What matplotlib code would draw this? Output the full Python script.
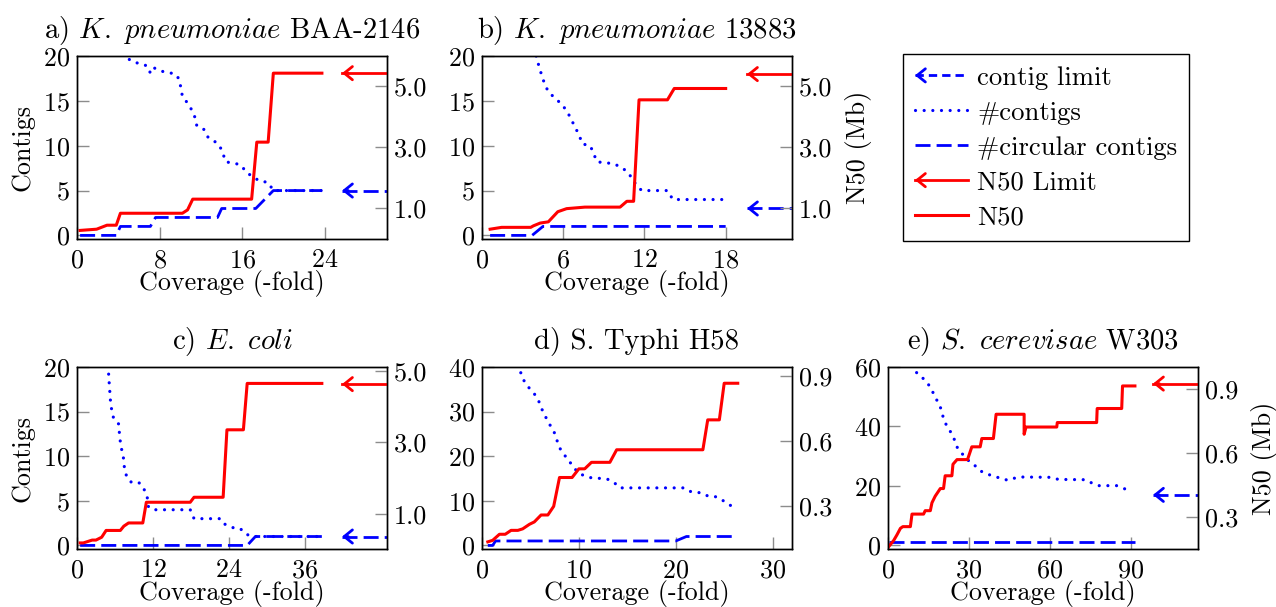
import matplotlib
matplotlib.use('Agg')
import matplotlib.pyplot as plt
from matplotlib.lines import Line2D
from matplotlib.patches import FancyArrowPatch
from matplotlib.legend_handler import HandlerLine2D

plt.rcParams['font.family'] = 'cmr10'
plt.rcParams['mathtext.fontset'] = 'cm'
plt.rcParams['axes.formatter.use_mathtext'] = True
plt.rcParams['font.size'] = 18.8

RED = '#ff0000'
BLUE = '#0000ff'
TICK = '#8c8c8c'
HEAD = '->,head_length=0.42,head_width=0.34'
DASH = (5.4, 2.2)
DOT = (0.01, 2.7)

# a) K. pneumoniae BAA-2146
a_cov_ctg = [4.4, 5.3, 6.8, 7.1, 7.4, 8.2, 9.5, 9.9, 10.2, 10.6, 11.1, 11.4, 11.6, 12.3,
             12.7, 13.3, 13.8, 14.1, 14.4, 15.4, 15.9, 16.4, 17.1, 17.6, 18.5, 19.0, 23.7]
a_ctg = [20.2, 19.4, 18.9, 18.1, 18.7, 18.3, 18.0, 17.4, 15.5, 14.9, 14.0, 13.2, 12.2, 11.8,
         10.9, 10.5, 10.0, 9.2, 8.2, 8.0, 7.8, 7.0, 6.5, 6.1, 5.9, 5.0, 5.0]
a_cov_circ = [0.3, 3.8, 4.2, 7.1, 7.6, 13.6, 14.0, 17.3, 19.0, 23.7]
a_circ = [0, 0, 1, 1, 2, 2, 3, 3, 5, 5]
a_cov_n50 = [0.3, 1.9, 2.9, 3.8, 4.2, 10.2, 10.7, 11.2, 16.9, 17.4, 18.5, 19.0, 23.7]
a_n50 = [0.28, 0.32, 0.45, 0.45, 0.84, 0.84, 0.95, 1.30, 1.30, 3.16, 3.16, 5.41, 5.41]

# b) K. pneumoniae 13883
b_cov_ctg = [4.0, 4.2, 4.4, 4.6, 4.9, 5.4, 5.9, 6.3, 6.6, 6.9, 7.2, 7.4, 8.0, 8.5, 9.7,
             10.3, 10.8, 11.4, 11.8, 13.7, 14.1, 18.0]
b_ctg = [20.0, 18.9, 17.9, 17.0, 16.0, 15.3, 14.6, 13.8, 12.9, 12.0, 11.1, 10.2, 10.0, 8.2,
         8.0, 7.6, 7.0, 5.6, 5.0, 5.0, 4.0, 4.0]
b_cov_circ = [0.6, 3.7, 4.5, 18.0]
b_circ = [0, 0, 1, 1]
b_cov_n50 = [0.6, 1.45, 3.6, 3.8, 4.3, 4.9, 5.6, 6.25, 7.6, 10.2, 10.7, 11.2, 11.6, 13.7, 14.2, 18.0]
b_n50 = [0.32, 0.38, 0.38, 0.43, 0.52, 0.56, 0.89, 0.99, 1.04, 1.04, 1.23, 1.23, 4.54, 4.54, 4.91, 4.91]

# c) E. coli
c_cov_ctg = [5.0, 5.1, 5.2, 5.3, 5.5, 5.8, 6.6, 6.7, 6.85, 7.1, 7.4, 7.5, 7.9, 8.7, 9.9,
             10.6, 11.1, 11.3, 12.1, 17.9, 18.5, 22.7, 23.3, 24.6, 25.8, 26.6, 27.7, 38.7]
c_ctg = [19.2, 18.1, 17.1, 16.1, 15.1, 14.2, 13.6, 12.6, 11.6, 10.6, 9.6, 8.6, 7.6, 7.0, 7.0,
         6.3, 5.4, 4.3, 4.0, 4.0, 3.0, 3.0, 2.4, 2.0, 1.9, 1.3, 1.0, 1.0]
c_cov_circ = [0.5, 26.9, 28.2, 38.7]
c_circ = [0, 0, 1, 1]
c_cov_n50 = [0.5, 1.0, 2.4, 3.0, 3.9, 4.6, 6.85, 7.4, 8.15, 10.4, 10.96, 17.9, 18.5, 23.1,
             23.7, 26.3, 26.9, 38.7]
c_n50 = [0.18, 0.18, 0.26, 0.26, 0.34, 0.53, 0.53, 0.65, 0.74, 0.74, 1.32, 1.32, 1.46, 1.46,
         3.35, 3.35, 4.65, 4.65]

# d) S. Typhi H58
d_cov_ctg = [3.8, 3.9, 4.2, 4.7, 5.3, 5.8, 6.1, 6.5, 6.9, 7.4, 7.7, 8.0, 8.5, 9.1, 9.6, 10.25,
             11.2, 12.9, 13.6, 14.2, 20.9, 21.6, 22.6, 23.4, 24.2, 25.0, 25.7]
d_ctg = [40.6, 39.4, 37.4, 35.7, 34.3, 32.7, 30.9, 29.1, 27.4, 25.7, 23.8, 21.9, 20.3, 18.6,
         17.1, 15.9, 15.2, 14.9, 14.2, 12.9, 12.9, 12.0, 11.8, 11.0, 10.9, 9.9, 8.9]
d_cov_circ = [0.6, 1.1, 1.4, 20.0, 21.1, 26.4]
d_circ = [0, 0, 1, 1, 2, 2]
d_cov_n50 = [0.6, 1.1, 1.8, 2.4, 3.0, 3.7, 4.2, 4.9, 5.4, 6.1, 6.8, 7.4, 8.0, 9.3, 10.0, 10.6,
             11.3, 13.2, 13.9, 22.8, 23.3, 24.5, 25.0, 26.4]
d_n50 = [0.133, 0.14, 0.168, 0.168, 0.186, 0.186, 0.193, 0.214, 0.225, 0.257, 0.257, 0.297,
         0.43, 0.43, 0.47, 0.47, 0.50, 0.50, 0.558, 0.558, 0.696, 0.696, 0.865, 0.865]

# e) S. cerevisae W303
e_cov_ctg = [8.5, 11.3, 13.8, 15.4, 16.7, 17.5, 19.1, 20.0, 20.8, 22.4, 23.7, 24.5, 25.3, 26.8,
             28.6, 30.5, 32.3, 34.2, 36.7, 39.7, 42.2, 44.7, 47.8, 50.0, 60.5, 63.2, 73.1,
             75.6, 78.0, 84.8, 87.9, 90.4]
e_ctg = [60.3, 57.4, 55.6, 53.6, 51.4, 49.7, 47.5, 44.7, 42.0, 39.2, 37.6, 35.9, 33.5, 31.5,
         29.8, 27.9, 26.8, 25.1, 24.0, 23.2, 22.4, 21.9, 22.9, 23.0, 22.9, 22.2, 22.1, 21.0,
         20.1, 20.1, 19.0, 19.0]
e_cov_circ = [0.2, 91.6]
e_circ = [1, 1]
e_cov_n50 = [0.2, 2.1, 3.3, 4.6, 5.5, 8.3, 8.9, 13.2, 13.8, 15.7, 16.3, 17.5, 19.4, 20.6, 21.2,
             23.7, 24.1, 25.6, 29.5, 31.1, 34.2, 34.8, 39.1, 40.1, 50.5, 50.5, 51.2, 62.6, 62.8,
             77.4, 77.6, 86.7, 87.0, 91.6]
e_n50 = [0.16, 0.19, 0.216, 0.247, 0.255, 0.255, 0.314, 0.314, 0.33, 0.33, 0.367, 0.398, 0.434,
         0.434, 0.494, 0.494, 0.548, 0.570, 0.570, 0.630, 0.630, 0.669, 0.669, 0.783, 0.783,
         0.689, 0.723, 0.723, 0.744, 0.744, 0.810, 0.810, 0.916, 0.916]

titles = [r'a) $\mathit{K.\ pneumoniae}$ BAA-2146', r'b) $\mathit{K.\ pneumoniae}$ 13883',
          r'c) $\mathit{E.\ coli}$', 'd) S. Typhi H58', r'e) $\mathit{S.\ cerevisae}$ W303']
n50_limits = [5.41, 5.38, 4.63, None, 0.927]
contig_limits = [5, 3, 1, None, 17]
x_max = [30, 22.9, 49, 32, 115]
x_ticks = [[0, 8, 16, 24], [0, 6, 12, 18], [0, 12, 24, 36], [0, 10, 20, 30], [0, 30, 60, 90]]
y_left_max = [20, 20, 20, 40, 60]
y_left_ticks = [[0, 5, 10, 15, 20]] * 3 + [[0, 10, 20, 30, 40], [0, 20, 40, 60]]
y_right_lim = [(0.0, 5.97), (0.0, 5.97), (0.01, 5.11), (0.10, 0.94), (0.15, 1.005)]
y_right_ticks = [[1, 3, 5]] * 3 + [[0.3, 0.6, 0.9]] * 2

W, H = 1276, 607
boxes = [(77, 56, 387, 239), (482, 56, 792, 239), (77, 367, 387, 549),
         (482, 367, 792, 549), (888, 367, 1198, 549)]


def limit_arrow(axis, xmax, value, color, dashes):
    xh = 0.855 * xmax
    if dashes:
        axis.plot([xh, xmax], [value, value], color=color, lw=2.0, dashes=dashes)
    else:
        axis.plot([xh, xmax], [value, value], color=color, lw=2.0)
    axis.annotate('', xy=(xh, value), xytext=(xh + 0.02 * xmax, value),
                  arrowprops=dict(arrowstyle=HEAD, color=color, lw=2.0,
                                  shrinkA=0, shrinkB=0, mutation_scale=14))


def style(axis):
    for s in axis.spines.values():
        s.set_color('black')
        s.set_linewidth(1.0)
    axis.tick_params(direction='in', length=8.6, width=1.0, color=TICK, pad=5)


fig = plt.figure(figsize=(W / 100, H / 100), dpi=100)

series = [(a_cov_ctg, a_ctg, a_cov_circ, a_circ, a_cov_n50, a_n50),
          (b_cov_ctg, b_ctg, b_cov_circ, b_circ, b_cov_n50, b_n50),
          (c_cov_ctg, c_ctg, c_cov_circ, c_circ, c_cov_n50, c_n50),
          (d_cov_ctg, d_ctg, d_cov_circ, d_circ, d_cov_n50, d_n50),
          (e_cov_ctg, e_ctg, e_cov_circ, e_circ, e_cov_n50, e_n50)]

for i, (cx, cy, qx, qy, nx, ny) in enumerate(series):
    x0, y0, x1, y1 = boxes[i]
    ax = fig.add_axes([x0 / W, 1 - y1 / H, (x1 - x0) / W, (y1 - y0) / H])
    ax.patch.set_alpha(0)
    ax.plot(qx, qy, color=BLUE, lw=2.0, dashes=DASH)
    ax.plot(cx, cy, color=BLUE, lw=2.3, dashes=DOT, dash_capstyle='round')
    ymax = y_left_max[i]
    ax.set_ylim(-0.02 * ymax, ymax)
    ax.set_xlim(0, x_max[i])
    ax.set_xticks(x_ticks[i])
    ax.set_yticks(y_left_ticks[i])
    style(ax)
    ax.tick_params(axis='x', pad=7)
    if contig_limits[i] is not None:
        limit_arrow(ax, x_max[i], contig_limits[i], BLUE, DASH)

    ax2 = ax.twinx()
    ax2.plot(nx, ny, color=RED, lw=2.2)
    ax2.set_ylim(*y_right_lim[i])
    ax2.set_yticks(y_right_ticks[i])
    ax2.set_yticklabels(['%.1f' % v for v in y_right_ticks[i]])
    style(ax2)
    if n50_limits[i] is not None:
        limit_arrow(ax2, x_max[i], n50_limits[i], RED, None)

    ax.set_title(titles[i], pad=13, fontsize=20.6)
    ax.set_xlabel('Coverage (-fold)', labelpad=-2)
    if i in (0, 2):
        ax.set_ylabel('Contigs', labelpad=6)
    if i in (1, 4):
        ax2.set_ylabel('N50 (Mb)', labelpad=9)


class ArrowLineHandler(HandlerLine2D):
    def create_artists(self, legend, orig_handle, xdescent, ydescent, width, height, fontsize, trans):
        arts = super().create_artists(legend, orig_handle, xdescent, ydescent,
                                      width, height, fontsize, trans)
        y = (height - ydescent) / 2
        xs = -xdescent
        head = FancyArrowPatch((xs + 3, y), (xs, y), arrowstyle=HEAD, mutation_scale=14,
                               color=orig_handle.get_color(), lw=2.0,
                               shrinkA=0, shrinkB=0, transform=trans)
        return list(arts) + [head]


h_limit = Line2D([], [], color=BLUE, lw=2.0, dashes=(3.0, 1.8))
h_ctg = Line2D([], [], color=BLUE, lw=2.3, dashes=DOT, dash_capstyle='round')
h_circ = Line2D([], [], color=BLUE, lw=2.0, dashes=DASH)
h_nlimit = Line2D([], [], color=RED, lw=2.0)
h_n50 = Line2D([], [], color=RED, lw=2.2)

leg = fig.legend([h_limit, h_ctg, h_circ, h_nlimit, h_n50],
                 ['contig limit', '#contigs', '#circular contigs', 'N50 Limit', 'N50'],
                 handler_map={h_limit: ArrowLineHandler(), h_nlimit: ArrowLineHandler()},
                 loc='upper left', bbox_to_anchor=(903 / W, 1 - 54 / H), borderaxespad=0,
                 fancybox=False, framealpha=1, edgecolor='black', handlelength=2.0,
                 handletextpad=0.33, labelspacing=0.42, borderpad=0.45, fontsize=19.2)
leg.get_frame().set_linewidth(1.0)

fig.savefig('out.png', dpi=100)
